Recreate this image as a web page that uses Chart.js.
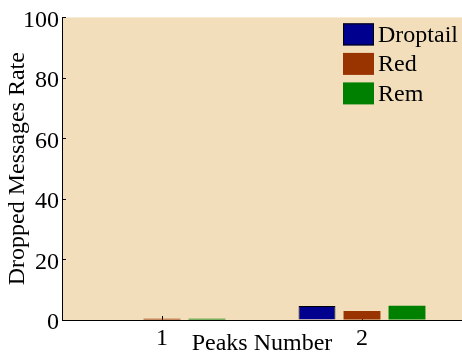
<!DOCTYPE html>
<html>
<head>
<meta charset="utf-8">
<script src="https://cdn.jsdelivr.net/npm/chart.js@4/dist/chart.umd.min.js"></script>
<style>
  html, body { margin: 0; padding: 0; background: #ffffff; }
  #wrap { width: 462px; height: 356px; }
</style>
</head>
<body>
<div id="wrap"><canvas id="chart" width="462" height="356"></canvas></div>
<script>
// datos
var PEAKS = ['1', '2'];
var DROPTAIL = [0, 4.6];
var RED = [0.4, 3.0];
var REM = [0.4, 4.7];
var Y_TICKS = [0, 20, 40, 60, 80, 100];

var FONT = 'Liberation Serif';
var BG_PLOT = 'rgb(242, 222, 187)';

// fondo del area de dibujo
var plotBg = {
  id: 'plotBg',
  beforeDraw: function (chart) {
    var a = chart.chartArea, ctx = chart.ctx;
    ctx.save();
    ctx.fillStyle = '#ffffff';
    ctx.fillRect(0, 0, chart.width, chart.height);
    ctx.fillStyle = BG_PLOT;
    ctx.fillRect(a.left, a.top, a.right - a.left, a.bottom - a.top);
    ctx.restore();
  }
};

// marcas de los ejes hacia dentro (estilo matlab)
var innerTicks = {
  id: 'innerTicks',
  beforeDatasetsDraw: function (chart) {
    var ctx = chart.ctx, a = chart.chartArea;
    var sx = chart.scales.x, sy = chart.scales.y;
    ctx.save();
    ctx.strokeStyle = '#000';
    ctx.lineWidth = 1;
    ctx.beginPath();
    sy.ticks.forEach(function (t) {
      var y = Math.round(sy.getPixelForValue(t.value)) + 0.5;
      ctx.moveTo(a.left, y);
      ctx.lineTo(a.left + 4, y);
    });
    sx.ticks.forEach(function (t, i) {
      var x = Math.round(sx.getPixelForTick(i)) + 0.5;
      ctx.moveTo(x, a.bottom);
      ctx.lineTo(x, a.bottom - 4);
    });
    ctx.stroke();
    ctx.restore();
  }
};

// leyenda dentro del area, arriba a la derecha
var boxLegend = {
  id: 'boxLegend',
  afterDraw: function (chart) {
    var ctx = chart.ctx, a = chart.chartArea;
    var x0 = a.right - 119, y0 = a.top + 6;
    ctx.save();
    ctx.font = '24px "' + FONT + '"';
    ctx.textBaseline = 'middle';
    ctx.textAlign = 'left';
    chart.data.datasets.forEach(function (ds, i) {
      var y = y0 + i * 29.5;
      ctx.fillStyle = ds.backgroundColor;
      ctx.fillRect(x0, y, 31, 22);
      if (ds.legendBorder) {
        ctx.strokeStyle = '#000';
        ctx.lineWidth = 1;
        ctx.strokeRect(x0 + 0.5, y + 0.5, 30, 21);
      }
      ctx.fillStyle = '#000';
      ctx.fillText(ds.label, x0 + 35, y + 12);
    });
    ctx.restore();
  }
};

function barSet(label, data, color, edge) {
  return {
    label: label,
    data: data,
    backgroundColor: color,
    borderColor: '#000',
    borderWidth: function (c) { return edge && c.raw > 0 ? 1 : 0; },
    borderSkipped: 'start',
    inflateAmount: 0,
    legendBorder: edge,
    barPercentage: 0.82,
    categoryPercentage: 0.675
  };
}

new Chart(document.getElementById('chart'), {
  type: 'bar',
  data: {
    labels: PEAKS,
    datasets: [
      barSet('Droptail', DROPTAIL, 'rgb(0, 0, 143)', true),
      barSet('Red', RED, 'rgb(153, 51, 0)', false),
      barSet('Rem', REM, 'rgb(0, 128, 0)', false)
    ]
  },
  options: {
    responsive: false,
    animation: false,
    layout: { padding: { top: 16, right: 0, left: 0, bottom: 0 } },
    plugins: {
      legend: { display: false },
      tooltip: { enabled: false }
    },
    scales: {
      x: {
        offset: true,
        grid: { display: true, drawOnChartArea: false, drawTicks: false },
        border: { color: '#000', width: 1 },
        ticks: { color: '#000', padding: 4, font: { family: FONT, size: 24 } },
        title: {
          display: true,
          text: 'Peaks Number',
          color: '#000',
          font: { family: FONT, size: 24 },
          padding: { top: 0, bottom: -2 }
        },
        afterFit: function (s) { s.height = 36; }
      },
      y: {
        min: 0,
        max: 100,
        afterBuildTicks: function (s) {
          s.ticks = Y_TICKS.map(function (v) { return { value: v }; });
        },
        grid: { display: true, drawOnChartArea: false, drawTicks: false },
        border: { color: '#000', width: 1 },
        ticks: { color: '#000', padding: 3, labelOffset: 3, font: { family: FONT, size: 24 } },
        title: {
          display: true,
          text: 'Dropped Messages Rate',
          color: '#000',
          font: { family: FONT, size: 24 },
          padding: { top: 3, bottom: 0 }
        },
        afterFit: function (s) { s.width = 62; }
      }
    }
  },
  plugins: [plotBg, innerTicks, boxLegend]
});
</script>
</body>
</html>
